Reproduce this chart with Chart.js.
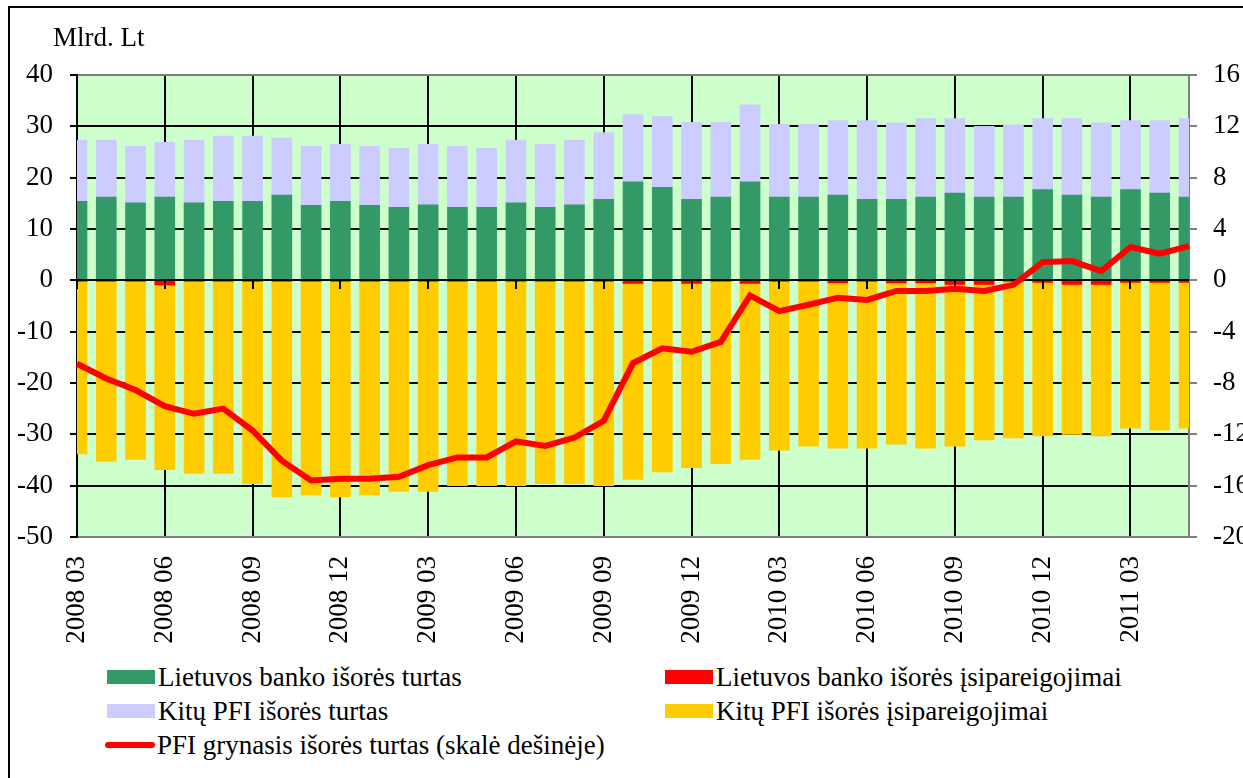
<!DOCTYPE html>
<html lang="lt">
<head>
<meta charset="utf-8">
<title>PFI išorės turtas ir įsipareigojimai</title>
<script src="https://cdn.jsdelivr.net/npm/chart.js@4.4.1/dist/chart.umd.min.js"></script>
<style>
  html, body { margin: 0; padding: 0; background: #fff; overflow: hidden; width: 1243px; height: 778px; }
  body { position: relative; font-family: 'Liberation Serif', 'Times New Roman', serif; color: #000; }
  #frame { position: absolute; left: 8px; top: 6px; width: 1300px; height: 800px; border: 2px solid #000; }
  #chartBox { position: absolute; left: 0; top: 0; }
  #unit { position: absolute; left: 53px; top: 24px; font-size: 27px; line-height: 27px; white-space: nowrap; }
  .item { position: absolute; height: 30px; display: flex; align-items: center; font-size: 27px; line-height: 30px; white-space: nowrap; }
  .swatch { width: 48px; height: 14px; margin-right: 3px; }
  .swatch.line { width: 50px; height: 6px; border-radius: 3px; margin-right: 2px; }
</style>
</head>
<body>
<div id="frame"></div>
<div id="chartBox"><canvas id="pfiChart" width="1290" height="660"></canvas></div>
<div id="unit">Mlrd. Lt</div>
<div id="legend"></div>
<script>
const months = [
  '2008 03', '2008 04', '2008 05', '2008 06', '2008 07', '2008 08', '2008 09', '2008 10', '2008 11', '2008 12',
  '2009 01', '2009 02', '2009 03', '2009 04', '2009 05', '2009 06', '2009 07', '2009 08', '2009 09', '2009 10',
  '2009 11', '2009 12', '2010 01', '2010 02', '2010 03', '2010 04', '2010 05', '2010 06', '2010 07', '2010 08',
  '2010 09', '2010 10', '2010 11', '2010 12', '2011 01', '2011 02', '2011 03', '2011 04', '2011 05'
];

// Lietuvos banko išorės turtas
const lbAssets = [
  15.4, 16.2, 15.1, 16.2, 15.1, 15.4, 15.4, 16.6, 14.6, 15.4,
  14.6, 14.2, 14.7, 14.2, 14.2, 15.1, 14.2, 14.7, 15.8, 19.2,
  18.1, 15.8, 16.2, 19.2, 16.2, 16.2, 16.6, 15.8, 15.8, 16.2,
  17.0, 16.2, 16.2, 17.7, 16.6, 16.2, 17.7, 17.0, 16.2
];
// Kitų PFI išorės turtas
const otherAssets = [
  11.9, 11.1, 11.0, 10.7, 12.2, 12.7, 12.7, 11.1, 11.5, 11.1,
  11.5, 11.5, 11.8, 11.9, 11.5, 12.2, 12.3, 12.6, 13.0, 13.1,
  13.8, 15.0, 14.6, 15.0, 14.2, 14.2, 14.5, 15.3, 14.9, 15.3,
  14.5, 13.8, 14.1, 13.8, 14.9, 14.5, 13.4, 14.1, 15.3
];
// Lietuvos banko išorės įsipareigojimai
const lbLiab = [
  -0.1, -0.1, -0.1, -0.9, -0.1, -0.1, -0.1, -0.1, -0.1, -0.1,
  -0.1, -0.1, -0.1, -0.1, -0.1, -0.1, -0.1, -0.1, -0.1, -0.6,
  -0.1, -0.6, -0.1, -0.6, -0.1, -0.1, -0.5, -0.1, -0.5, -0.5,
  -0.8, -0.8, -0.1, -0.4, -0.8, -0.8, -0.4, -0.4, -0.4
];
// Kitų PFI išorės įsipareigojimai
const otherLiab = [
  -33.7, -35.2, -34.8, -36.0, -37.5, -37.5, -39.5, -42.1, -41.7, -42.1,
  -41.7, -41.0, -41.0, -39.9, -39.9, -39.9, -39.5, -39.5, -39.9, -38.2,
  -37.2, -35.9, -35.6, -34.3, -33.0, -32.2, -32.2, -32.6, -31.4, -32.2,
  -31.5, -30.3, -30.6, -29.9, -29.2, -29.5, -28.4, -28.8, -28.4
];
// PFI grynasis išorės turtas (dešinė skalė)
const netAssets = [
  -6.5, -7.65, -8.55, -9.8, -10.4, -10.0, -11.7, -14.05, -15.6, -15.47,
  -15.47, -15.3, -14.4, -13.8, -13.8, -12.55, -12.9, -12.25, -10.95, -6.45,
  -5.3, -5.57, -4.8, -1.17, -2.4, -1.9, -1.35, -1.53, -0.83, -0.83,
  -0.65, -0.83, -0.35, 1.42, 1.5, 0.72, 2.6, 2.07, 2.67
];

const leftTicks = { min: -50, max: 40, step: 10 };
const rightTicks = { min: -20, max: 16, step: 4 };

const font = { family: "'Liberation Serif', 'Times New Roman', serif", size: 27 };

const plotBackground = {
  id: 'plotBackground',
  beforeDraw(chart) {
    const { ctx, chartArea: a } = chart;
    ctx.save();
    ctx.fillStyle = '#CCFFCC';
    ctx.fillRect(a.left, a.top, a.right - a.left, a.bottom - a.top);
    ctx.restore();
  }
};

// category axis crosses at 0, drawn over the bars but under the line
const zeroAxis = {
  id: 'zeroAxis',
  beforeDatasetDraw(chart, args) {
    if (args.meta.type !== 'line') return;
    const { ctx, chartArea: a, scales } = chart;
    const y0 = Math.round(scales.y.getPixelForValue(0));
    ctx.save();
    ctx.strokeStyle = '#000';
    ctx.lineWidth = 2;
    ctx.beginPath();
    ctx.moveTo(a.left, y0);
    ctx.lineTo(a.right, y0);
    months.forEach((m, i) => {
      if (i % 3 !== 0) return;
      const x = Math.round(scales.x.getPixelForValue(i));
      ctx.moveTo(x, y0);
      ctx.lineTo(x, y0 + 9);
    });
    ctx.stroke();
    ctx.restore();
  }
};

const barBase = { type: 'bar', yAxisID: 'y', barThickness: 20, borderWidth: 0, clip: 0, order: 1 };

const datasets = [
  { ...barBase, label: 'Lietuvos banko išorės turtas', data: lbAssets, backgroundColor: '#339966' },
  { ...barBase, label: 'Kitų PFI išorės turtas', data: otherAssets, backgroundColor: '#CCCCFF' },
  { ...barBase, label: 'Lietuvos banko išorės įsipareigojimai', data: lbLiab, backgroundColor: '#FF0000' },
  { ...barBase, label: 'Kitų PFI išorės įsipareigojimai', data: otherLiab, backgroundColor: '#FFCC00' },
  {
    type: 'line', label: 'PFI grynasis išorės turtas (skalė dešinėje)', data: netAssets, yAxisID: 'y1',
    borderColor: '#FF0000', backgroundColor: '#FF0000', borderWidth: 6, pointRadius: 0, tension: 0, fill: false, order: 0
  }
];

const chart = new Chart(document.getElementById('pfiChart'), {
  data: { labels: months, datasets: datasets },
  options: {
    responsive: false,
    animation: false,
    devicePixelRatio: 1,
    layout: { padding: { top: 75, left: 0, right: 0, bottom: 0 } },
    plugins: { legend: { display: false }, tooltip: { enabled: false } },
    scales: {
      x: {
        stacked: true,
        offset: false,
        grid: {
          offset: false,
          drawTicks: false,
          lineWidth: 2,
          color: c => (c.index % 3 === 0 ? '#000' : 'rgba(0,0,0,0)')
        },
        border: { color: '#808080', width: 2 },
        ticks: {
          autoSkip: false, minRotation: 90, maxRotation: 90, padding: 19, color: '#000', font: font,
          callback: (v, i) => (i % 3 === 0 ? months[i] : '')
        },
        afterFit: s => { s.height = 123; }
      },
      y: {
        stacked: true,
        min: leftTicks.min, max: leftTicks.max,
        ticks: { stepSize: leftTicks.step, padding: 17, color: '#000', font: font },
        grid: {
          lineWidth: 2, tickLength: 7, tickColor: '#000',
          color: c => (c.tick && (c.tick.value === leftTicks.max || c.tick.value === leftTicks.min) ? '#808080' : '#000')
        },
        border: { color: '#000', width: 2 },
        afterFit: s => { s.width = 77; }
      },
      y1: {
        position: 'right',
        stacked: false,
        min: rightTicks.min, max: rightTicks.max,
        ticks: { stepSize: rightTicks.step, padding: 16, color: '#000', font: font },
        grid: { drawOnChartArea: false, color: '#808080', lineWidth: 2, tickLength: 8 },
        border: { color: '#808080', width: 2 },
        afterFit: s => { s.width = 101; }
      }
    }
  },
  plugins: [plotBackground, zeroAxis]
});

// legend in two columns, as in the original
const legendSlots = [
  { ds: 0, x: 107, y: 677 },
  { ds: 2, x: 665, y: 677 },
  { ds: 1, x: 107, y: 711 },
  { ds: 3, x: 665, y: 711 },
  { ds: 4, x: 105, y: 745 }
];
const legend = document.getElementById('legend');
legendSlots.forEach(slot => {
  const ds = chart.data.datasets[slot.ds];
  const item = document.createElement('div');
  item.className = 'item';
  item.style.left = slot.x + 'px';
  item.style.top = (slot.y - 15) + 'px';
  const isLine = ds.type === 'line';
  const color = isLine ? ds.borderColor : ds.backgroundColor;
  item.innerHTML = `<span class="swatch${isLine ? ' line' : ''}" style="background:${color}"></span><span>${ds.label}</span>`;
  legend.appendChild(item);
});
</script>
</body>
</html>
